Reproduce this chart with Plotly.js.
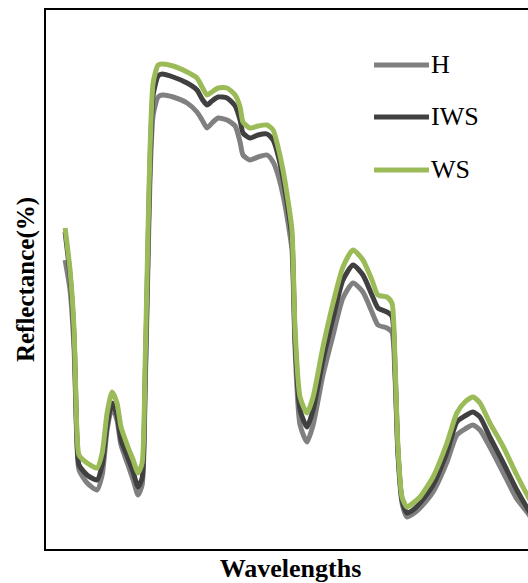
<!DOCTYPE html>
<html>
<head>
<meta charset="utf-8">
<script src="https://cdn.plot.ly/plotly-3.0.1.min.js"></script>
<style>
  html, body { margin: 0; padding: 0; overflow: hidden; background: #fff; }
  #chart { width: 545px; height: 583px; }
</style>
</head>
<body>
<div id="chart"></div>
<script>
// Wavelength (nm), shared by all series
const wavelengths = [350,372,390,403,412,448,492,515,537,559,581,599,630,653,675,693,706,719,728,742,764,782,831,893,937,960,982,1004,1031,1071,1107,1129,1142,1173,1209,1249,1276,1298,1320,1342,1360,1374,1396,1427,1454,1498,1543,1587,1632,1676,1716,1743,1783,1805,1819,1832,1850,1872,1899,1930,1988,2050,2094,2130,2166,2197,2241,2299,2361,2410,2442];

// Reflectance (%) of each series
const reflH = [28.9,25.9,19.9,10.4,7.9,6.6,5.9,7.4,11.9,14.2,12.9,10.4,8.4,6.9,5.4,6.4,15.4,28.4,36.9,43.4,45.2,45.4,45.2,44.6,43.7,42.9,42.1,42.6,43.1,42.9,42.3,40.7,39.4,38.9,39.2,39.4,38.7,37.4,35.4,32.7,29.9,19.9,12.4,10.7,12.4,17.4,21.4,25.1,26.6,25.7,23.7,22.4,22.1,21.7,17.1,9.4,4.6,3.2,3.5,4.1,5.7,8.7,11.4,12.0,12.4,11.9,10.2,7.7,5.0,3.6,2.5];
const reflIWS = [31.7,27.4,21.1,10.9,8.4,7.4,6.9,8.4,12.4,14.6,13.4,10.9,9.1,7.7,6.2,7.1,16.4,29.9,38.4,45.4,47.3,47.5,47.2,46.6,45.9,45.0,44.4,44.8,45.2,45.1,44.3,42.9,41.6,41.1,41.4,41.5,40.9,39.4,37.1,34.1,31.1,20.9,13.9,12.2,13.9,18.9,23.1,26.9,28.4,27.4,25.4,24.1,23.7,23.3,17.9,9.7,4.9,3.6,3.9,4.6,6.4,9.7,12.7,13.3,13.7,13.2,11.2,8.7,5.9,4.0,2.9];
const reflWS = [32.1,27.9,21.9,11.6,9.4,8.6,8.1,9.6,13.6,15.7,14.6,12.2,10.2,8.9,7.6,8.6,18.2,31.6,39.9,46.6,48.4,48.5,48.3,47.7,47.1,46.2,45.4,45.7,46.1,46.1,45.4,44.2,42.7,42.1,42.3,42.4,41.9,40.2,37.9,34.9,31.9,21.9,15.2,13.6,15.2,20.2,24.6,28.2,29.9,28.9,26.9,25.4,25.2,24.6,18.6,10.2,5.2,4.2,4.6,5.2,7.2,10.6,13.6,14.7,15.2,14.6,12.6,10.3,7.4,5.3,4.1];

const seriesNames = ["H", "IWS", "WS"];
const seriesData = [reflH, reflIWS, reflWS];
const seriesColors = ["#808080", "#404040", "#9BBB59"];

const traces = seriesNames.map((name, i) => ({
  type: "scatter",
  mode: "lines",
  name: name,
  x: wavelengths,
  y: seriesData[i],
  line: { color: seriesColors[i], width: 5, shape: "spline", smoothing: 0.6 },
  showlegend: false,
  hoverinfo: "skip"
}));

// Manual legend (long line samples as in the reference)
const legendY = [0.898, 0.8015, 0.7032];
const shapes = [];
const annotations = [];
seriesNames.forEach((name, i) => {
  shapes.push({
    type: "line", xref: "paper", yref: "paper",
    x0: 0.6708, x1: 0.7832, y0: legendY[i], y1: legendY[i],
    line: { color: seriesColors[i], width: 5 }
  });
  annotations.push({
    xref: "paper", yref: "paper", x: 0.7833, y: legendY[i],
    xanchor: "left", yanchor: "middle", showarrow: false,
    text: name,
    font: { family: "Liberation Serif", size: 26, color: "#000" }
  });
});

const layout = {
  width: 545,
  height: 583,
  margin: { l: 46, r: 10, t: 10, b: 34 },
  paper_bgcolor: "#fff",
  plot_bgcolor: "#fff",
  showlegend: false,
  xaxis: {
    range: [265, 2442],
    showgrid: false, zeroline: false,
    showticklabels: false, ticks: "",
    showline: true, linecolor: "#000", linewidth: 2, mirror: true,
    title: { text: "<b>Wavelengths</b>", standoff: 10,
             font: { family: "Liberation Serif", size: 26, color: "#000" } },
    automargin: false
  },
  yaxis: {
    range: [0, 53.9],
    showgrid: false, zeroline: false,
    showticklabels: false, ticks: "",
    showline: true, linecolor: "#000", linewidth: 2, mirror: true,
    title: { text: "<b>Reflectance(%)</b>", standoff: 2,
             font: { family: "Liberation Serif", size: 25, color: "#000" } },
    automargin: false
  },
  shapes: shapes,
  annotations: annotations
};

Plotly.newPlot("chart", traces, layout, { displayModeBar: false, staticPlot: true });
</script>
</body>
</html>
